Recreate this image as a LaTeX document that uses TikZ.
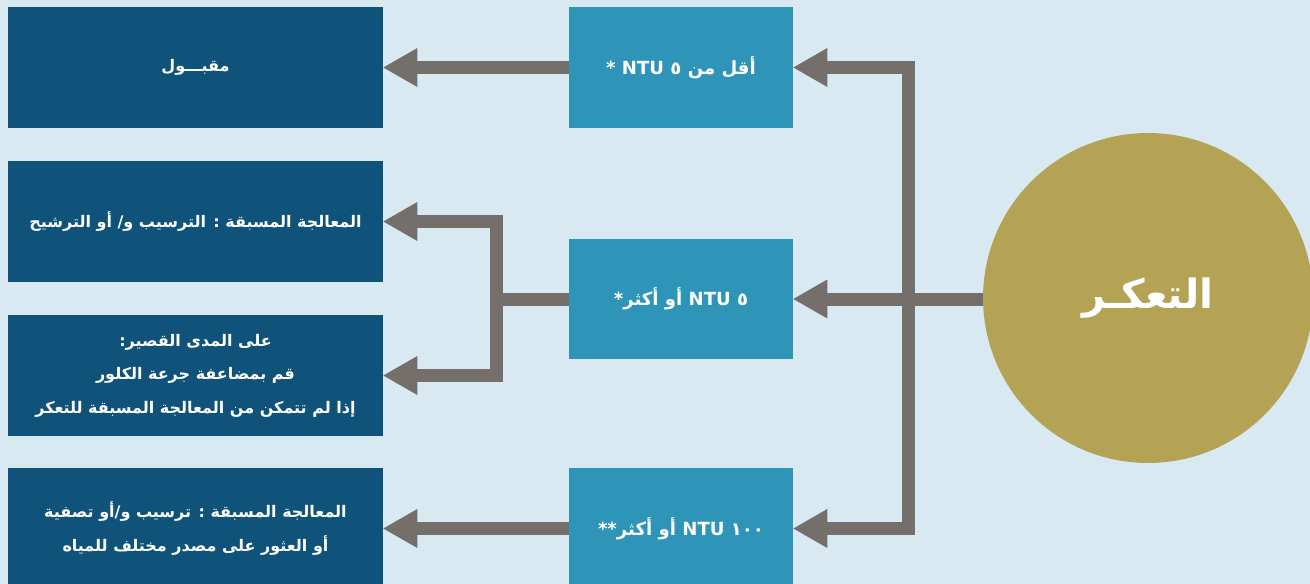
\documentclass[tikz,border=0pt]{standalone}
\usepackage{fontspec}
\usetikzlibrary{arrows.meta}
\newfontfamily\arabicfont[Script=Arabic]{DejaVu Sans}
\TeXXeTstate=1
\definecolor{bgblue}{HTML}{D8E9F2}
\definecolor{darkblue}{HTML}{10537A}
\definecolor{midblue}{HTML}{2E95B9}
\definecolor{arrowgray}{HTML}{756F6C}
\definecolor{gold}{HTML}{B4A355}
\begin{document}
\begin{tikzpicture}[x=0.02cm,y=-0.02cm,
  darkbox/.style={rectangle, fill=darkblue, minimum width=7.5cm, minimum height=2.42cm, inner sep=0pt, text=white, align=center, font=\arabicfont\bfseries\fontsize{9.1}{19}\selectfont},
  midbox/.style={rectangle, fill=midblue, minimum width=4.48cm, minimum height=2.42cm, inner sep=0pt, text=white, align=center, font=\arabicfont\bfseries\fontsize{10.3}{14}\selectfont},
  conn/.style={draw=arrowgray, line width=0.26cm, line join=miter},
  tipend/.style={conn, -{Triangle[length=0.68cm,width=0.78cm,line width=0pt 0]}},
  tipboth/.style={conn, {Triangle[length=0.68cm,width=0.78cm,line width=0pt 0]}-{Triangle[length=0.68cm,width=0.78cm,line width=0pt 0]}}
]
\useasboundingbox[fill=bgblue] (0,0) rectangle (1310,584);
\begin{scope}
\clip (0,0) rectangle (1310,584);

% left column
\node[darkbox] (acc) at (195.5,67.5) {\beginR مقبـــول\endR};
\node[darkbox] (pre1) at (195.5,221.5) {\beginR المعالجة المسبقة : الترسيب و/ أو الترشيح\endR};
\node[darkbox] (chl) at (195.5,375.5) {\beginR على المدى القصير:\endR\\\beginR قم بمضاعفة جرعة الكلور\endR\\\beginR إذا لم تتمكن من المعالجة المسبقة للتعكر\endR};
\node[darkbox] (pre2) at (195.5,528.5) {\beginR المعالجة المسبقة : ترسيب و/أو تصفية\endR\\\beginR أو العثور على مصدر مختلف للمياه\endR};

% middle column
\node[midbox] (low) at (681,67.5) {\beginR أقل من ٥ NTU \beginL*\endL\endR};
\node[midbox] (five) at (681,299) {\beginR ٥ NTU أو أكثر\beginL*\endL\endR};
\node[midbox] (hund) at (681,528.5) {\beginR ١٠٠ NTU أو أكثر\beginL**\endL\endR};

% circle
\node[circle, fill=gold, minimum size=6.6cm, inner sep=0pt, text=white, font=\arabicfont\bfseries\fontsize{23}{27}\selectfont] (turb) at (1148,298) {\beginR التعكـر\endR};

% connectors
\coordinate (tt) at (908,67.5);
\coordinate (tm) at (908,299);
\coordinate (tb) at (908,528.5);
\coordinate (jt) at (496,221.5);
\coordinate (jm) at (496,299);
\coordinate (jb) at (496,375.5);

\draw[tipend] (turb.west |- tm) -- (five.east);
\draw[tipboth] (low.east) -- (tt) -- (tb) -- (hund.east);
\draw[tipend] (low.west) -- (acc.east);
\draw[conn] (five.west) -- (jm);
\draw[tipboth] (pre1.east) -- (jt) -- (jb) -- (chl.east);
\draw[tipend] (hund.west) -- (pre2.east);
\end{scope}
\end{tikzpicture}
\end{document}
